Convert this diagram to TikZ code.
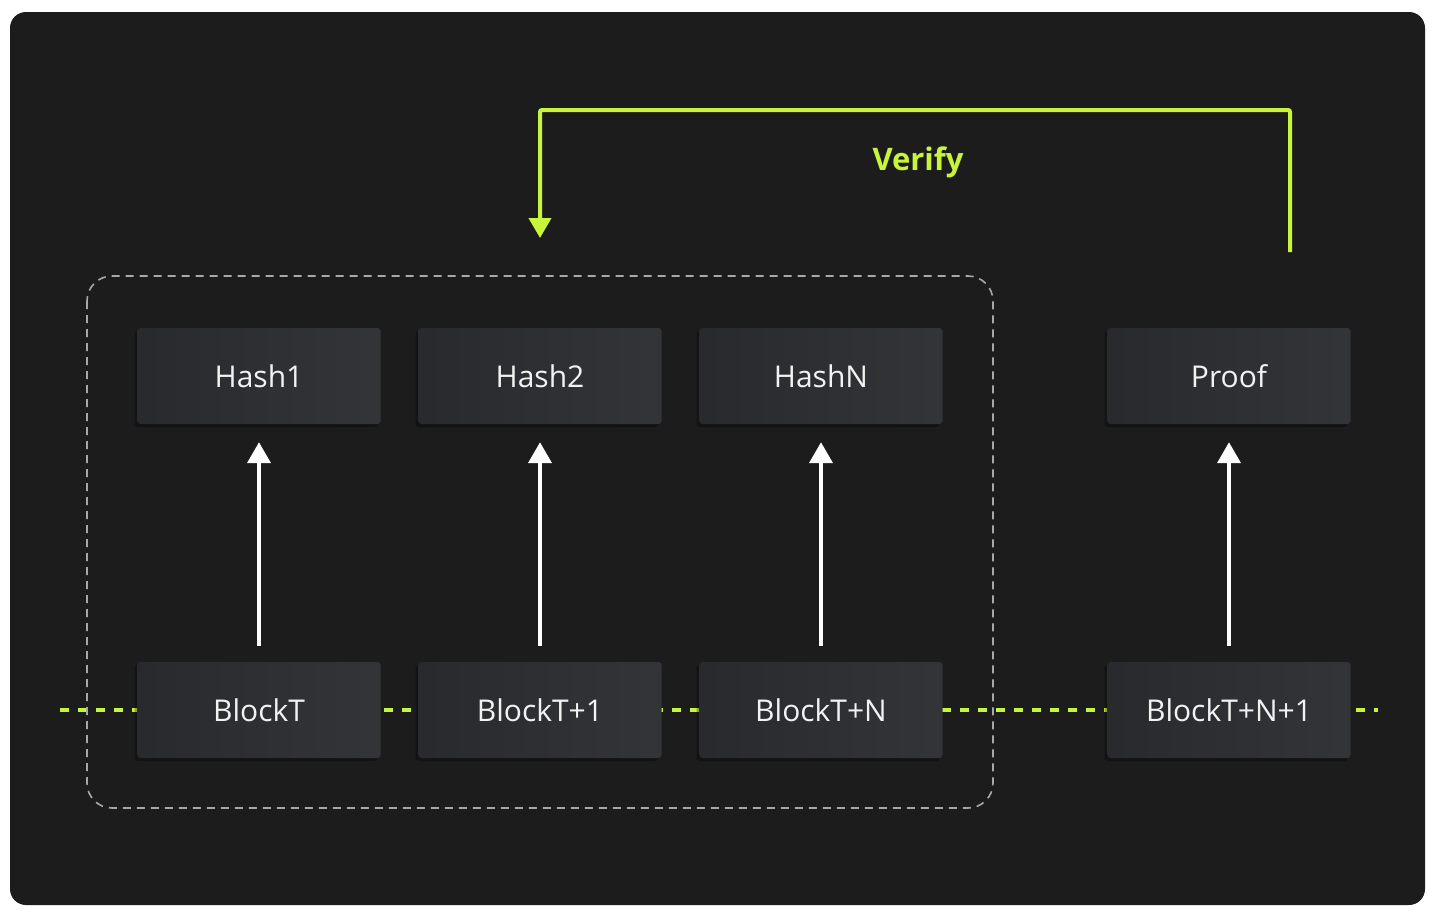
\documentclass[tikz,border=0pt]{standalone}
\usepackage{fontspec}
\setmainfont{Open Sans}
\usetikzlibrary{arrows.meta,shadows,calc}
\definecolor{bg}{HTML}{1C1C1C}
\definecolor{boxc}{HTML}{2B2C2F}
\definecolor{lime}{HTML}{C8F53C}
\definecolor{dashg}{HTML}{A8A8A8}
\definecolor{txt}{HTML}{F2F2F2}
\tikzset{
  blk/.style={rectangle, rounded corners=3pt, minimum width=243pt, minimum height=96pt,
    left color=boxc!95!black, right color=boxc!96!white, draw=none,
    text=txt, font=\fontsize{30}{36}\selectfont, inner sep=0pt,
    drop shadow={shadow xshift=-3pt, shadow yshift=-3pt, fill=black, opacity=0.3}},
  up/.style={draw=white, line width=4pt, shorten <=16pt, shorten >=18pt, -{Triangle[width=23pt,length=21pt]}},
  chain/.style={draw=lime, line width=4pt, dash pattern=on 9pt off 9pt},
  group/.style={draw=dashg, line width=1.6pt, dash pattern=on 8pt off 6pt, rounded corners=25pt},
  verif/.style={draw=lime, line width=4pt, rounded corners=2pt, -{Triangle[width=22pt,length=20pt]}},
  vlabel/.style={text=lime, font=\fontsize{31}{36}\selectfont\bfseries}
}
\begin{document}
\begin{tikzpicture}[x=1pt,y=-1pt]
\useasboundingbox (0,0) rectangle (1432,910);
\fill[white] (0,0) rectangle (1432,910);
\fill[bg, rounded corners=16pt] (10,12) rectangle (1425,905);
% chain line
\coordinate (cl) at (60,710);
\coordinate (cr) at (1378,710);
\draw[chain] (cl) -- (cr);
% group box
\draw[group] (87,276) rectangle (993,808);
% nodes
\node[blk] (h1) at (259,376) {Hash1};
\node[blk] (h2) at (540,376) {Hash2};
\node[blk] (hn) at (821,376) {HashN};
\node[blk] (pf) at (1229,376) {Proof};
\node[blk] (b1) at (259,710) {BlockT};
\node[blk] (b2) at (540,710) {BlockT+1};
\node[blk] (bn) at (821,710) {BlockT+N};
\node[blk] (bp) at (1229,710) {BlockT+N+1};
% arrows
\draw[up] (b1.north) -- (h1.south);
\draw[up] (b2.north) -- (h2.south);
\draw[up] (bn.north) -- (hn.south);
\draw[up] (bp.north) -- (pf.south);
% verify
\coordinate (vs) at (1290,252);
\coordinate (ve) at (540,238);
\draw[verif] (vs) -- (1290,110) -- (540,110) -- (ve);
\node[vlabel] (vl) at (918,162) {Verify};
\end{tikzpicture}
\end{document}
